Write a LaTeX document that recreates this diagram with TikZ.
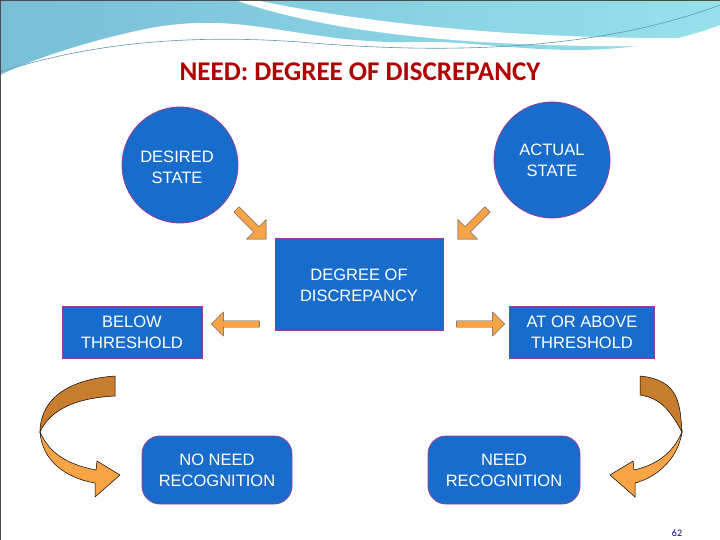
\documentclass[tikz,border=0pt]{standalone}
\usepackage{fontspec}
\setmainfont{Liberation Sans}
\newfontfamily\titlefont{Carlito}
\usetikzlibrary{shapes.arrows}
\definecolor{bfill}{RGB}{24,108,204}
\definecolor{bdraw}{RGB}{150,60,150}
\definecolor{ora}{RGB}{248,164,70}
\definecolor{orad}{RGB}{200,124,46}
\definecolor{teal1}{RGB}{120,190,215}
\definecolor{teal2}{RGB}{150,225,235}
\tikzset{
 x=1pt,y=-1pt,
 tx/.style={text=white,font=\fontsize{16.5}{21}\selectfont,align=center},
 blob/.style={circle,fill=bfill,draw=bdraw,line width=0.8pt,minimum size=116pt,tx},
 rbox/.style={rectangle,fill=bfill,draw=bdraw,line width=0.8pt,tx},
 rrbox/.style={rbox,rounded corners=18pt},
 blk/.style={single arrow,fill=ora,draw=black!70,line width=0.4pt,minimum height=42pt,minimum width=28pt,single arrow head extend=6pt,inner sep=2pt},
 curv/.style={draw=black,line width=0.5pt},
}
\begin{document}
\begin{tikzpicture}
\useasboundingbox (0,0) rectangle (720,540);
\fill[white] (0,0) rectangle (720,540);
% banner
\shade[left color=teal1,right color=teal2] (0,0) -- (720,0) -- (720,25) .. controls (600,70) and (500,40) .. (420,42) .. controls (300,45) and (250,10) .. (150,28) .. controls (90,40) and (30,60) .. (0,75) -- cycle;
\fill[white] (235,0) .. controls (350,40) and (520,50) .. (720,45) -- (720,38) .. controls (560,40) and (400,30) .. (255,0) -- cycle;
\draw[teal1!80!black,line width=0.6pt] (0,72) .. controls (100,40) and (200,35) .. (300,42) .. controls (450,55) and (600,50) .. (720,5);
\draw[black!70,line width=0.8pt] (0,0) rectangle (720,540);
\node[text=red!70!black,font=\titlefont\bfseries\fontsize{27}{30}\selectfont] (title) at (360,72) {NEED: DEGREE OF DISCREPANCY};
% nodes
\node[blob] (des) at (180,165) {};
\node[tx] (destx) at (177,167) {DESIRED\\STATE};
\node[blob] (act) at (552,160) {ACTUAL\\STATE};
\node[rbox,minimum width=168pt,minimum height=92pt] (deg) at (359,284) {};
\node[tx] (degtx) at (359,285) {DEGREE OF\\DISCREPANCY};
\node[rbox,minimum width=140pt,minimum height=52pt] (below) at (132,332) {BELOW\\THRESHOLD};
\node[rbox,minimum width=145pt,minimum height=52pt] (above) at (582,332) {AT OR ABOVE\\THRESHOLD};
\node[rrbox,minimum width=150pt,minimum height=68pt] (noneed) at (217,470) {NO NEED\\RECOGNITION};
\node[rrbox,minimum width=152pt,minimum height=68pt] (need) at (504,470) {NEED\\RECOGNITION};
% straight block arrows
\node[blk,rotate=-45] (a1) at (250,223) {};
\node[blk,rotate=-135] (a2) at (474,223) {};
\node[blk,rotate=180,minimum height=48pt,minimum width=24pt] (a3) at (237,324) {};
\node[blk,minimum height=48pt,minimum width=24pt] (a4) at (479,324) {};
% curved arrows
\filldraw[fill=orad,curv] (115,376) .. controls (60,380) and (40,405) .. (40,432) .. controls (50,410) and (75,398) .. (115,396) -- cycle;
\filldraw[fill=ora,curv] (40,432) .. controls (42,460) and (65,478) .. (95,483) -- (95,497) -- (120,475) -- (97,461) -- (96,470) .. controls (70,465) and (50,455) .. (40,432) -- cycle;
\begin{scope}[xshift=720pt,x=-1pt]
\filldraw[fill=orad,curv] (80,376) .. controls (40,380) and (40,405) .. (38,432) .. controls (50,410) and (60,398) .. (80,395) -- cycle;
\filldraw[fill=ora,curv] (38,432) .. controls (42,460) and (65,478) .. (85,483) -- (85,497) -- (110,475) -- (87,461) -- (86,470) .. controls (65,465) and (48,455) .. (38,432) -- cycle;
\end{scope}
\node[font=\titlefont\fontsize{10}{11}\selectfont,text=blue!50!black] (pg) at (677,533) {62};
\end{tikzpicture}
\end{document}
